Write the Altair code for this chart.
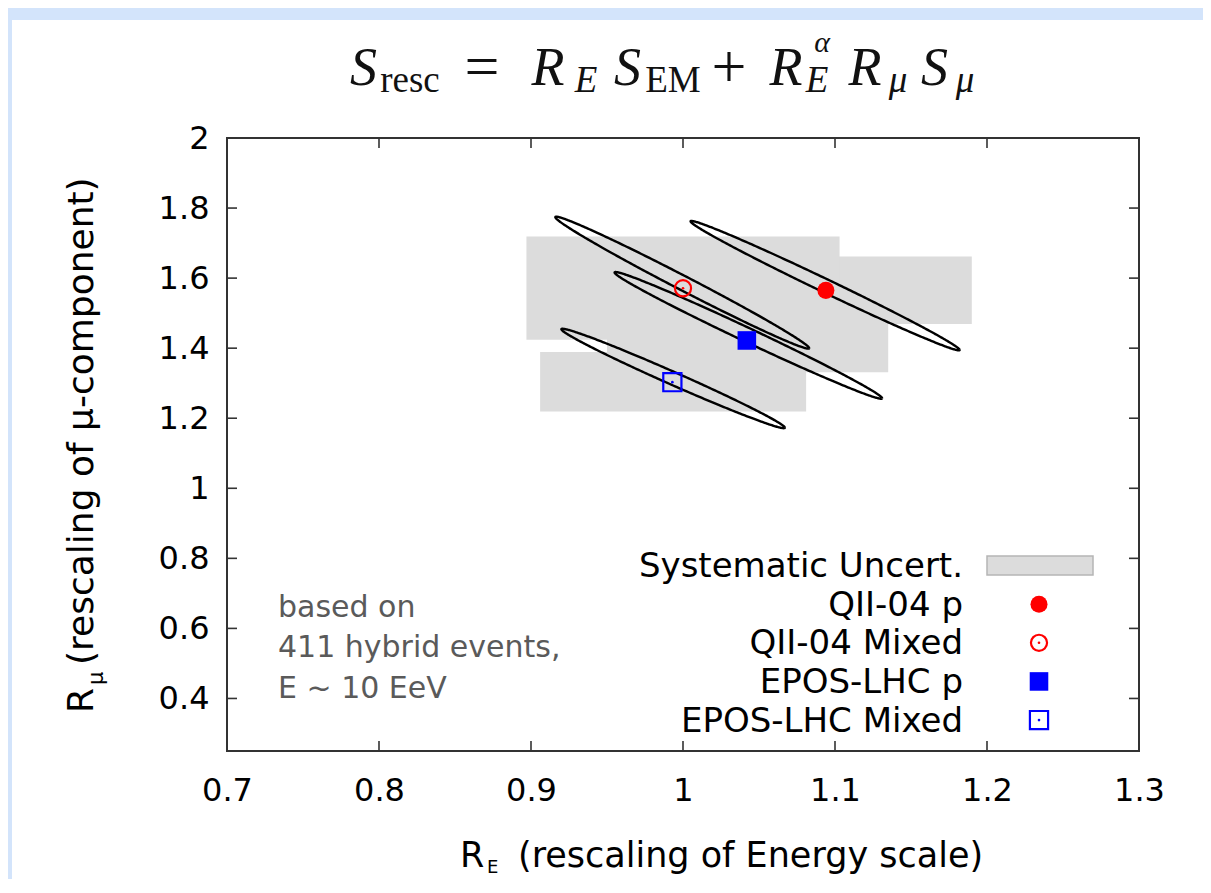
import altair as alt
import numpy as np
import pandas as pd

# ---------------- data ----------------
models = ["QII-04 p", "QII-04 Mixed", "EPOS-LHC p", "EPOS-LHC Mixed"]
best_RE = [1.094, 1.000, 1.042, 0.993]
best_Rmu = [1.565, 1.571, 1.422, 1.303]

# systematic-uncertainty boxes
sys_RE_lo = [0.997, 0.897, 0.950, 0.906]
sys_RE_hi = [1.190, 1.103, 1.135, 1.081]
sys_Rmu_lo = [1.469, 1.424, 1.331, 1.219]
sys_Rmu_hi = [1.662, 1.719, 1.513, 1.389]

# statistical contours (ellipses): the two tips and the vertical half-thickness
ell_tipA_RE = [1.005, 0.916, 0.955, 0.920]
ell_tipA_Rmu = [1.762, 1.774, 1.616, 1.454]
ell_tipB_RE = [1.182, 1.083, 1.131, 1.067]
ell_tipB_Rmu = [1.395, 1.400, 1.257, 1.173]
ell_half_thick_Rmu = [0.021, 0.023, 0.022, 0.020]

x_ticks = [0.7, 0.8, 0.9, 1.0, 1.1, 1.2, 1.3]
y_ticks = [0.4, 0.6, 0.8, 1.0, 1.2, 1.4, 1.6, 1.8, 2.0]
X_DOM = [0.7, 1.3]
Y_DOM = [0.25, 2.0]

legend_labels = ["Systematic Uncert.", "QII-04 p", "QII-04 Mixed", "EPOS-LHC p", "EPOS-LHC Mixed"]
note_lines = ["based on", "411 hybrid events,", "E ~ 10 EeV"]

# ---------------- build tables ----------------
pts = pd.DataFrame({"model": models, "RE": best_RE, "Rmu": best_Rmu})
boxes = pd.DataFrame({"model": models, "x1": sys_RE_lo, "x2": sys_RE_hi,
                      "y1": sys_Rmu_lo, "y2": sys_Rmu_hi})
ell_rows = []
for k, m in enumerate(models):
    cx = (ell_tipA_RE[k] + ell_tipB_RE[k]) / 2
    cy = (ell_tipA_Rmu[k] + ell_tipB_Rmu[k]) / 2
    ax = (ell_tipB_RE[k] - ell_tipA_RE[k]) / 2
    ay = (ell_tipB_Rmu[k] - ell_tipA_Rmu[k]) / 2
    h = ell_half_thick_Rmu[k]
    for i, t in enumerate(np.linspace(0, 2 * np.pi, 361)):
        ell_rows.append({"model": m, "i": i,
                         "RE": cx + ax * np.cos(t),
                         "Rmu": cy + ay * np.cos(t) + h * np.sin(t)})
ell = pd.DataFrame(ell_rows)
xt = pd.DataFrame({"v": x_ticks})
yt = pd.DataFrame({"v": y_ticks})
one = pd.DataFrame({"d": [0]})

# ---------------- styling ----------------
W, H = 912, 613
FONT = "DejaVu Sans"
SERIF = "Liberation Serif"
RED = "#ff0000"
BLUE = "#0000ff"
GREY = "#dcdcdc"
SLIDE_BLUE = "#d3e4fb"

xscale = alt.Scale(domain=X_DOM, nice=False, zero=False)
yscale = alt.Scale(domain=Y_DOM, nice=False, zero=False)
xaxis = alt.Axis(values=x_ticks, format="~g", ticks=False, tickSize=0, domain=False, grid=False,
                 labelFont=FONT, labelFontSize=32, labelColor="#000000", labelPadding=24,
                 labelFlush=False, labelOverlap=False, labelBound=False, title=None, zindex=1)
yaxis = alt.Axis(values=y_ticks, format="~g", ticks=False, tickSize=0, domain=False, grid=False,
                 labelFont=FONT, labelFontSize=32, labelColor="#000000", labelPadding=18,
                 labelFlush=False, labelOverlap=False, labelBound=False, title=None, zindex=1)


def X(f):
    return alt.X(f, type="quantitative", scale=xscale, axis=xaxis)


def Y(f):
    return alt.Y(f, type="quantitative", scale=yscale, axis=yaxis)


layers = []

# light-blue slide borders (top and left)
layers.append(alt.Chart(one).mark_rect(color=SLIDE_BLUE).encode(
    x=alt.value(-219), x2=alt.value(1000), y=alt.value(-130), y2=alt.value(-118)))
layers.append(alt.Chart(one).mark_rect(color=SLIDE_BLUE).encode(
    x=alt.value(-219), x2=alt.value(-215), y=alt.value(-130), y2=alt.value(760)))

# systematic boxes
layers.append(alt.Chart(boxes).mark_rect(color=GREY).encode(
    x=X("x1"), x2="x2", y=Y("y1"), y2="y2"))

# ellipses
layers.append(alt.Chart(ell).mark_line(color="#000000", strokeWidth=2.4).encode(
    x=X("RE"), y=Y("Rmu"), detail="model:N", order="i:Q"))


# markers
def pts_of(name):
    return alt.Chart(pts).transform_filter(alt.datum.model == name)


CIRC, RING, SQ, OSQ = 290, 260, 345, 330
layers.append(pts_of("QII-04 p").mark_point(shape="circle", filled=True, color=RED, opacity=1, size=CIRC)
              .encode(x=X("RE"), y=Y("Rmu")))
layers.append(pts_of("QII-04 Mixed").mark_point(shape="circle", filled=False, color=RED, opacity=1,
                                                size=RING, strokeWidth=2.2)
              .encode(x=X("RE"), y=Y("Rmu")))
layers.append(pts_of("QII-04 Mixed").mark_point(shape="circle", filled=True, color=RED, opacity=1, size=7)
              .encode(x=X("RE"), y=Y("Rmu")))
layers.append(pts_of("EPOS-LHC p").mark_point(shape="square", filled=True, color=BLUE, opacity=1, size=SQ)
              .encode(x=X("RE"), y=Y("Rmu")))
layers.append(pts_of("EPOS-LHC Mixed").mark_point(shape="square", filled=False, color=BLUE, opacity=1,
                                                  size=OSQ, strokeWidth=2.2)
              .encode(x=X("RE"), y=Y("Rmu")))
layers.append(pts_of("EPOS-LHC Mixed").mark_point(shape="circle", filled=True, color=BLUE, opacity=1, size=7)
              .encode(x=X("RE"), y=Y("Rmu")))

# inward ticks on all four sides
TK = "#333333"
layers.append(alt.Chart(xt).mark_rule(color=TK, strokeWidth=1.6).encode(x=X("v"), y=alt.value(H), y2=alt.value(H - 10)))
layers.append(alt.Chart(xt).mark_rule(color=TK, strokeWidth=1.6).encode(x=X("v"), y=alt.value(0), y2=alt.value(10)))
layers.append(alt.Chart(yt).mark_rule(color=TK, strokeWidth=1.6).encode(y=Y("v"), x=alt.value(0), x2=alt.value(10)))
layers.append(alt.Chart(yt).mark_rule(color=TK, strokeWidth=1.6).encode(y=Y("v"), x=alt.value(W), x2=alt.value(W - 10)))


def txt(text, x, y, size, font=FONT, style="normal", align="left", color="#000000", angle=0):
    kw = dict(text=text, font=font, fontSize=size, fontStyle=style, align=align,
              baseline="alphabetic", color=color)
    if angle:
        kw["angle"] = angle
    return alt.Chart(one).mark_text(**kw).encode(x=alt.value(x), y=alt.value(y))


# note
for i, line in enumerate(note_lines):
    layers.append(txt(line, 51, 479 + 40.3 * i, 30, color="#5a5a5a"))

# legend (labels left of symbols, gnuplot style)
LX_LABEL, LX_SYM, L_Y0, L_DY = 736, 812, 439, 38.65
for i, lab in enumerate(legend_labels):
    layers.append(txt(lab, LX_LABEL, L_Y0 + L_DY * i, 34, align="right"))
sy = [L_Y0 + L_DY * i - 11.5 for i in range(5)]
layers.append(alt.Chart(one).mark_rect(color=GREY, stroke="#b5b5b5", strokeWidth=1.5).encode(
    x=alt.value(LX_SYM - 52), x2=alt.value(LX_SYM + 54), y=alt.value(sy[0] - 9.5), y2=alt.value(sy[0] + 9.5)))
layers.append(alt.Chart(one).mark_point(shape="circle", filled=True, color=RED, opacity=1, size=CIRC).encode(
    x=alt.value(LX_SYM), y=alt.value(sy[1])))
layers.append(alt.Chart(one).mark_point(shape="circle", filled=False, color=RED, opacity=1, size=RING, strokeWidth=2.2).encode(
    x=alt.value(LX_SYM), y=alt.value(sy[2])))
layers.append(alt.Chart(one).mark_point(shape="circle", filled=True, color=RED, opacity=1, size=7).encode(
    x=alt.value(LX_SYM), y=alt.value(sy[2])))
layers.append(alt.Chart(one).mark_point(shape="square", filled=True, color=BLUE, opacity=1, size=SQ).encode(
    x=alt.value(LX_SYM), y=alt.value(sy[3])))
layers.append(alt.Chart(one).mark_point(shape="square", filled=False, color=BLUE, opacity=1, size=OSQ, strokeWidth=2.2).encode(
    x=alt.value(LX_SYM), y=alt.value(sy[4])))
layers.append(alt.Chart(one).mark_point(shape="circle", filled=True, color=BLUE, opacity=1, size=7).encode(
    x=alt.value(LX_SYM), y=alt.value(sy[4])))

# axis titles with subscripts
layers.append(txt("R", 233, 729, 35))
layers.append(txt("E", 260, 735, 18))
layers.append(txt("(rescaling of Energy scale)", 291, 729, 35))
layers.append(txt("R", -134, 575, 36, angle=270))
layers.append(txt("μ", -124, 547, 21, angle=270))
layers.append(txt("(rescaling of μ-component)", -134, 527, 36, angle=270))

# formula title  S_resc = R_E S_EM + R_E^alpha R_mu S_mu
MAIN_B, SUB_B, SUP_B = -53, -46, -86
MS, SS = 54, 37
formula = [
    ("S", 363.5, "italic", MS, MAIN_B),
    ("resc", 410, "normal", SS, SUB_B),
    ("=", 482, "normal", 62, MAIN_B + 2),
    ("R", 548, "italic", MS, MAIN_B),
    ("E", 586, "italic", SS, SUB_B),
    ("S", 627.5, "italic", MS, MAIN_B),
    ("EM", 673, "normal", SS, SUB_B),
    ("+", 729, "normal", 62, MAIN_B + 2),
    ("R", 786, "italic", MS, MAIN_B),
    ("α", 822, "italic", 30, SUP_B),
    ("E", 817, "italic", SS, SUB_B),
    ("R", 865, "italic", MS, MAIN_B),
    ("μ", 898, "italic", SS, SUB_B),
    ("S", 934.5, "italic", MS, MAIN_B),
    ("μ", 965, "italic", SS, SUB_B),
]
for t, xp, st, sz, yb in formula:
    layers.append(txt(t, xp - 227, yb, sz, font=SERIF, style=st, align="center", color="#111111"))

chart = alt.layer(*layers).properties(
    width=W, height=H,
    padding={"left": 219, "top": 130, "right": 64, "bottom": 128},
    autosize=alt.AutoSizeParams(type="none"),
    background="#ffffff",
).configure_view(stroke="#333333", strokeWidth=2)

chart.save("out.html", embed_options={"renderer": "svg", "actions": False})
